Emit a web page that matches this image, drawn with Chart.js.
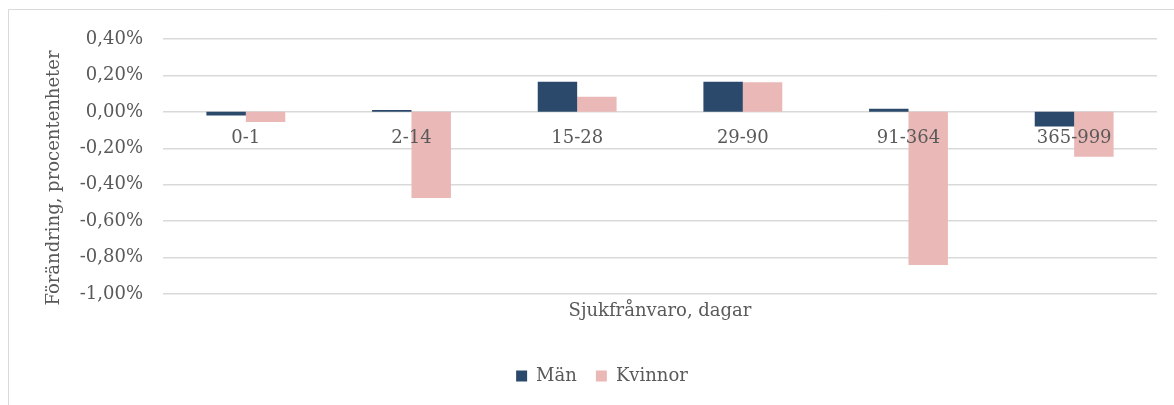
<!DOCTYPE html>
<html>
<head>
<meta charset="utf-8">
<script src="https://cdn.jsdelivr.net/npm/chart.js@4.4.1/dist/chart.umd.min.js"></script>
<style>
html,body{margin:0;padding:0;background:#fff;}
#wrap{position:relative;width:1174px;height:405px;}
</style>
</head>
<body>
<div id="wrap"><canvas id="c" width="1174" height="405"></canvas></div>
<script>
const categories = ['0-1', '2-14', '15-28', '29-90', '91-364', '365-999'];
const manValues = [-0.02, 0.01, 0.165, 0.165, 0.017, -0.081];
const kvinnorValues = [-0.055, -0.473, 0.083, 0.163, -0.841, -0.247];
const seriesNames = ['Män', 'Kvinnor'];
const yTitle = 'Förändring, procentenheter';
const xTitle = 'Sjukfrånvaro, dagar';

const FONT = "'DejaVu Serif', serif";
const TXT = '#595959';

const frame = {
  id: 'frame',
  beforeDraw(chart) {
    const ctx = chart.ctx;
    ctx.save();
    ctx.fillStyle = '#fff';
    ctx.fillRect(0, 0, chart.width, chart.height);
    ctx.strokeStyle = '#D9D9D9';
    ctx.lineWidth = 1;
    ctx.beginPath();
    ctx.moveTo(8.5, 405);
    ctx.lineTo(8.5, 9.5);
    ctx.lineTo(1174, 9.5);
    ctx.stroke();
    ctx.restore();
  }
};

const yTitlePlugin = {
  id: 'yTitlePlugin',
  afterDraw(chart) {
    const ctx = chart.ctx;
    ctx.save();
    ctx.translate(59, 178);
    ctx.rotate(-Math.PI / 2);
    ctx.font = "18px " + FONT;
    ctx.fillStyle = TXT;
    ctx.textAlign = 'center';
    ctx.textBaseline = 'alphabetic';
    ctx.fillText(yTitle, 0, 0);
    ctx.restore();
  }
};

new Chart(document.getElementById('c'), {
  type: 'bar',
  data: {
    labels: categories,
    datasets: [
      { label: seriesNames[0], data: manValues, backgroundColor: '#2B4A6B', xAxisID: 'x' },
      { label: seriesNames[1], data: kvinnorValues, backgroundColor: '#EAB8B6', xAxisID: 'x' }
    ]
  },
  options: {
    responsive: false,
    animation: false,
    devicePixelRatio: 1,
    layout: { padding: { left: 47, right: 17, top: 39, bottom: 10 } },
    datasets: { bar: { barPercentage: 1.0, categoryPercentage: 0.476 } },
    plugins: {
      legend: {
        position: 'bottom',
        labels: {
          font: { family: FONT, size: 18 },
          color: TXT,
          boxWidth: 11,
          boxHeight: 11,
          padding: 19
        }
      },
      tooltip: { enabled: false }
    },
    scales: {
      y: {
        min: -1, max: 0.4,
        ticks: {
          stepSize: 0.2,
          color: TXT,
          font: { family: FONT, size: 18 },
          padding: 20,
          callback: v => {
            const r = Math.round(v * 100) / 100;
            return (r === 0 ? 0 : r).toFixed(2).replace('.', ',') + '%';
          }
        },
        grid: { color: '#D9D9D9', lineWidth: 1.5, drawTicks: false },
        border: { display: false },
        afterFit(s) { s.width = 116; }
      },
      x: {
        ticks: { display: false },
        grid: { display: false, drawTicks: false },
        border: { display: false },
        title: {
          display: true, text: xTitle, color: TXT,
          font: { family: FONT, size: 18 },
          padding: { top: 0, bottom: 26 }
        },
        afterFit(s) { s.height = 54; }
      },
      x2: {
        type: 'category',
        labels: categories,
        position: { y: 0 },
        offset: true,
        ticks: { z: 1, color: TXT, font: { family: FONT, size: 18 }, padding: 16, maxRotation: 0, autoSkip: false },
        grid: { display: false, drawTicks: false },
        border: { display: false }
      }
    }
  },
  plugins: [frame, yTitlePlugin]
});
</script>
</body>
</html>
